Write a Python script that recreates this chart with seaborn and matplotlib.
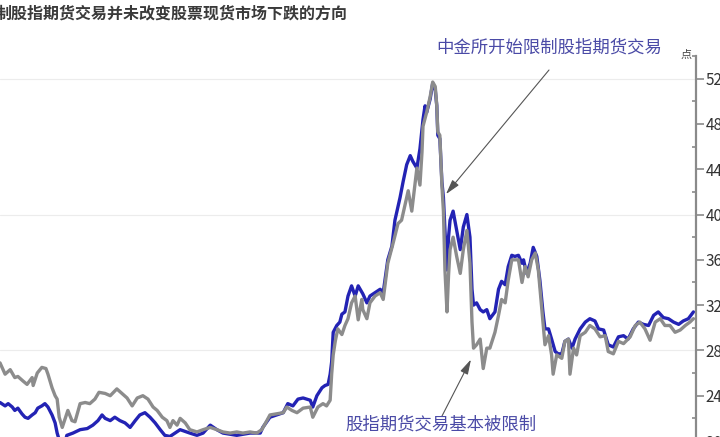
import pandas as pd
import matplotlib
matplotlib.use('Agg')
import matplotlib.pyplot as plt
import seaborn as sns

# days since 2013-02-15, index points
gray_days = [0, 10, 20, 29, 35, 45, 53, 63, 65, 73, 82, 90, 94, 102, 108, 112, 116, 122,
             133, 141, 147, 157, 167, 176, 186, 194, 206, 216, 229, 239, 249, 259, 269, 280,
             290, 300, 308, 318, 327, 333, 339, 347, 353, 363, 372, 386, 398, 412, 425, 437,
             451, 464, 476, 490, 503, 513, 523, 529, 542, 555, 562, 572, 582, 594, 608, 613,
             623, 633, 640, 647, 650, 653, 657, 662, 670, 676, 682, 689, 696, 702, 709, 711,
             719, 725, 735, 745, 751, 760, 770, 780, 787, 794, 800, 807, 813, 817, 823, 827,
             829, 836, 843, 848, 853, 856, 858, 862, 866, 869, 872, 876, 879, 882, 888, 895,
             902, 908, 915, 921, 925, 928, 934, 941, 947, 954, 960, 970, 977, 983, 990, 996,
             1003, 1009, 1016, 1023, 1029, 1035, 1042, 1049, 1055, 1062, 1068, 1075, 1081,
             1084, 1091, 1101, 1107, 1114, 1117, 1124, 1130, 1137, 1147, 1156, 1166, 1176,
             1186, 1192, 1202, 1212, 1222, 1235, 1245, 1254, 1264, 1274, 1284, 1294, 1303,
             1313, 1323, 1333, 1343, 1352, 1359]
gray_vals = [2690, 2590, 2630, 2560, 2570, 2530, 2500, 2560, 2490, 2600, 2650, 2640, 2590,
             2470, 2400, 2370, 2210, 2120, 2270, 2180, 2170, 2330, 2340, 2330, 2370, 2430,
             2420, 2400, 2460, 2420, 2380, 2310, 2380, 2400, 2370, 2300, 2270, 2210, 2180,
             2120, 2180, 2140, 2200, 2160, 2100, 2080, 2100, 2120, 2100, 2080, 2070, 2080,
             2070, 2080, 2070, 2100, 2180, 2230, 2240, 2250, 2300, 2270, 2250, 2290, 2300,
             2210, 2300, 2330, 2310, 2360, 2590, 2760, 2880, 2990, 2940, 3020, 3080, 3220,
             3280, 3070, 3250, 3160, 3080, 3220, 3280, 3310, 3250, 3570, 3740, 3920, 3950,
             4090, 4210, 4030, 4260, 4410, 4260, 4550, 4780, 4900, 5040, 5170, 5130, 4960,
             4730, 4700, 4260, 4030, 3510, 3140, 3460, 3690, 3800, 3630, 3480, 3690, 3860,
             3570, 3050, 2820, 2850, 2900, 2640, 2820, 2820, 2960, 3110, 3250, 3220, 3420,
             3600, 3600, 3600, 3400, 3540, 3450, 3600, 3660, 3510, 3160, 2850, 2930, 2760,
             2590, 2760, 2730, 2880, 2900, 2590, 2820, 2760, 2930, 2960, 3020, 2990, 2920,
             2930, 2790, 2770, 2880, 2860, 2920, 3020, 3050, 2990, 2890, 3050, 3080, 3020,
             3020, 2960, 2980, 3020, 3050, 3080]

blue_days = [0, 10, 16, 24, 29, 35, 43, 49, 55, 63, 69, 74, 82, 88, 94, 102, 108, 112, 116,
             122, 127, 131, 143, 157, 171, 182, 192, 200, 206, 216, 225, 235, 245, 255, 265,
             274, 284, 294, 304, 314, 323, 333, 343, 353, 372, 386, 398, 412, 425, 437, 464,
             490, 510, 515, 529, 542, 555, 564, 574, 584, 594, 608, 613, 621, 631, 637, 643,
             647, 650, 653, 660, 666, 670, 676, 682, 689, 696, 702, 711, 719, 725, 735, 745,
             751, 760, 768, 774, 784, 790, 797, 804, 809, 817, 823, 829, 833, 836, 843, 848,
             853, 856, 858, 862, 866, 869, 872, 876, 879, 882, 888, 895, 902, 908, 915, 921,
             925, 928, 934, 941, 947, 954, 960, 970, 977, 983, 990, 996, 1003, 1009, 1016,
             1023, 1026, 1032, 1039, 1045, 1052, 1058, 1064, 1068, 1075, 1081, 1088, 1094,
             1101, 1107, 1114, 1121, 1127, 1137, 1147, 1156, 1166, 1173, 1183, 1192, 1202,
             1212, 1222, 1231, 1241, 1251, 1261, 1271, 1281, 1290, 1300, 1310, 1320, 1330,
             1339, 1349, 1359]
blue_vals = [2340, 2310, 2330, 2300, 2270, 2290, 2240, 2210, 2200, 2230, 2250, 2290, 2310,
             2330, 2300, 2230, 2160, 2070, 2010, 1970, 1980, 2050, 2070, 2100, 2110, 2140,
             2180, 2230, 2200, 2180, 2210, 2180, 2160, 2120, 2180, 2230, 2250, 2210, 2160,
             2100, 2050, 2040, 2070, 2100, 2070, 2050, 2070, 2140, 2100, 2070, 2050, 2070,
             2070, 2120, 2210, 2230, 2250, 2330, 2310, 2370, 2380, 2360, 2300, 2400, 2470,
             2490, 2500, 2590, 2700, 2960, 3020, 3050, 3120, 3140, 3280, 3370, 3280, 3370,
             3300, 3220, 3280, 3310, 3340, 3310, 3600, 3720, 3950, 4150, 4290, 4440, 4520,
             4470, 4410, 4580, 4840, 4960, 4900, 5020, 5160, 5100, 4960, 4700, 4670, 4290,
             4150, 3860, 3510, 3800, 3950, 4030, 3860, 3690, 3890, 4000, 3800, 3340, 3200,
             3220, 3160, 3140, 3160, 3080, 3140, 3340, 3410, 3380, 3540, 3640, 3630, 3640,
             3570, 3600, 3480, 3570, 3710, 3630, 3420, 3140, 2990, 2990, 2900, 2790, 2770,
             2770, 2880, 2900, 2820, 2900, 2990, 3050, 3080, 3060, 2990, 2980, 2850, 2830,
             2920, 2930, 2900, 2990, 3050, 3030, 3020, 3110, 3140, 3090, 3080, 3050, 3030,
             3060, 3080, 3140]

y_ticks = [2000, 2400, 2800, 3200, 3600, 4000, 4400, 4800, 5200]
grid_levels = [2800, 4000, 5200]
title = '制股指期货交易并未改变股票现货市场下跌的方向'
note_top = '中金所开始限制股指期货交易'
note_bottom = '股指期货交易基本被限制'

start = pd.Timestamp('2013-02-15')
df = pd.concat([
    pd.DataFrame({'day': blue_days, 'value': blue_vals, 'series': 'blue'}),
    pd.DataFrame({'day': gray_days, 'value': gray_vals, 'series': 'gray'}),
])
df['date'] = start + pd.to_timedelta(df['day'], unit='D')

sns.set_style('white')
plt.rcParams['font.family'] = ['Noto Sans CJK SC', 'DejaVu Sans']

W, H = 720, 437
fig = plt.figure(figsize=(W / 100, H / 100), dpi=100)
# axes: left edge at 0, right spine at x=696, 2000 at y=441 (off canvas), top at y=56
ax = fig.add_axes([0, 1 - 441 / H, 696 / W, (441 - 56) / H])

for lvl in grid_levels:
    ax.axhline(lvl, color='#ececec', lw=0.8, zorder=0)

# blue first, gray drawn over it
sns.lineplot(data=df, x='date', y='value', hue='series',
             palette={'gray': '#8c8c8c', 'blue': '#2323b4'},
             hue_order=['blue', 'gray'], linewidth=2.4, legend=False, ax=ax,
             estimator=None, sort=True)

ax.set_xlim(start, start + pd.Timedelta(days=1364))
ax.set_ylim(2000, 5340)
ax.set_xlabel('')
ax.set_ylabel('')
ax.xaxis.set_visible(False)
for side in ['left', 'top', 'bottom']:
    ax.spines[side].set_visible(False)
ax.spines['right'].set_color('#8a8a8a')
ax.spines['right'].set_linewidth(1.6)
ax.yaxis.tick_right()
ax.set_yticks(y_ticks)
ax.set_yticks([t + 200 for t in y_ticks], minor=True)
ax.tick_params(axis='y', which='major', direction='out', length=6, width=1.2,
               color='#8a8a8a', labelsize=11, labelcolor='#333333', pad=1)
ax.tick_params(axis='y', which='minor', direction='in', length=3, width=1.2,
               color='#8a8a8a')
ax.set_facecolor('white')

fig.text(686 / W, 1 - 55 / H, '点', fontsize=8, color='#444444', ha='center', va='center')
fig.text(-4 / W, 1 - 14 / H, title, fontsize=11.5, fontweight='bold', color='#3a3a3a',
         ha='left', va='center')

fig.text(549 / W, 1 - 48 / H, note_top, fontsize=12.5, color='#4a4aa6', ha='center', va='center')
ax.annotate('', xy=(start + pd.Timedelta(days=874), 4180), xycoords='data',
            xytext=(549, H - 70), textcoords='figure pixels',
            arrowprops=dict(arrowstyle='-|>,head_length=0.9,head_width=0.25',
                            color='#555555', lw=0.8, shrinkA=0, shrinkB=0))

fig.text(441 / W, 1 - 425 / H, note_bottom, fontsize=12.5, color='#4a4aa6', ha='center', va='center')
ax.annotate('', xy=(start + pd.Timedelta(days=923), 2720), xycoords='data',
            xytext=(442, H - 416), textcoords='figure pixels',
            arrowprops=dict(arrowstyle='-|>,head_length=0.9,head_width=0.25',
                            color='#555555', lw=0.8, shrinkA=0, shrinkB=0))

fig.savefig('out.png', dpi=100)
